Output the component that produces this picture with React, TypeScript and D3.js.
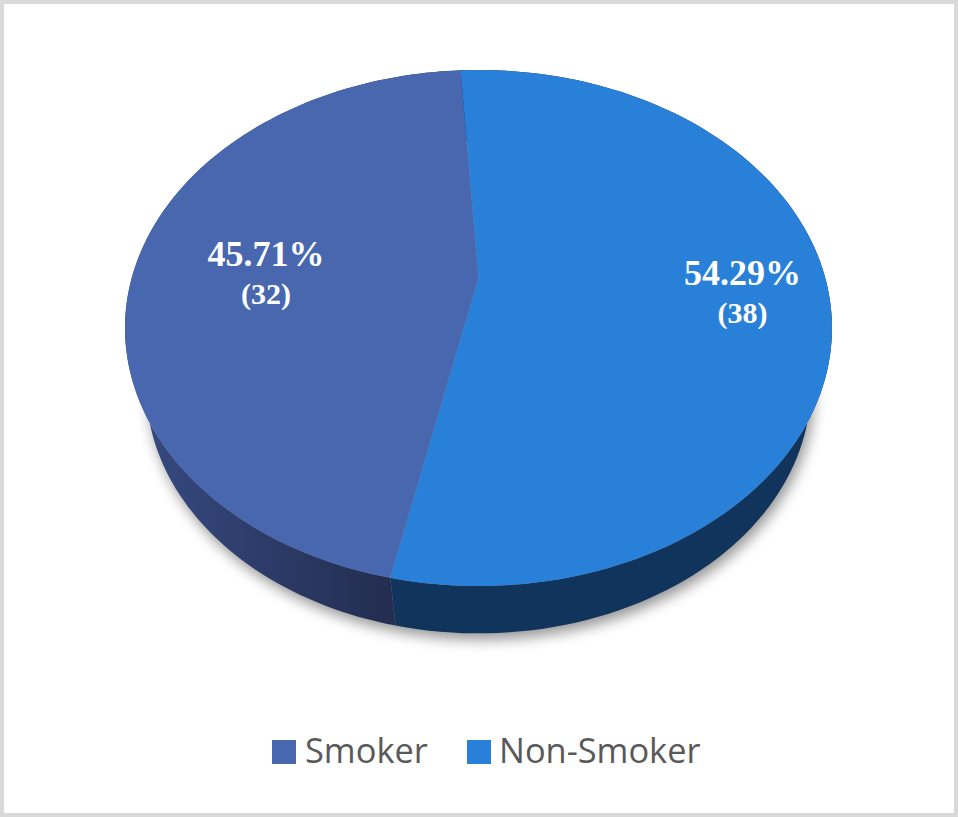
import * as d3 from "d3";

const categories = ["Smoker", "Non-Smoker"];
const counts = [32, 38];
const percentLabels = ["45.71%", "54.29%"];

const topColors = ["#4867ae", "#2880d8"];
const sideColors = ["url(#smokerSide)", "#10345c"];

const width = 958;
const height = 817;

// perspective of the disc: apex sits above the middle of the ellipse
const cx = 478.5;
const apexY = 278;
const tilt = -0.1938;
const scaleX = 346.8;
const scaleY = 248.3;
const depth = 59;
const bottomScaleX = 0.94;
const bottomScaleY = 0.955;

const project = (angle: number, r = 1): [number, number] => {
  const x = Math.sin(angle) * r;
  const y = -Math.cos(angle) * r;
  const w = 1 + tilt * y;
  return [cx + (scaleX * x) / w, apexY + (scaleY * y) / w];
};

// same point on the lower rim of the disc
const projectLow = (angle: number): [number, number] => {
  const [x, y] = project(angle);
  return [cx + (x - cx) * bottomScaleX, 328 + depth + (y - 328) * bottomScaleY];
};

const pie = d3
  .pie<number>()
  .sort(null)
  .startAngle((191.9 * Math.PI) / 180)
  .endAngle((551.9 * Math.PI) / 180);
const slices = pie(counts);

const angles = (s: d3.PieArcDatum<number>) =>
  d3.range(0, 121).map((i) => s.startAngle + ((s.endAngle - s.startAngle) * i) / 120);

const line = d3.line();

const topPath = (s: d3.PieArcDatum<number>) =>
  line([project(0, 0), ...angles(s).map((a) => project(a))]) + "Z";

const sidePath = (s: d3.PieArcDatum<number>) =>
  line([
    ...angles(s).map((a) => project(a)),
    ...angles(s)
      .reverse()
      .map((a) => projectLow(a)),
  ]) + "Z";

const shadowPath = () => {
  const all = d3.range(0, 361, 2).map((d) => (d * Math.PI) / 180);
  return line(all.map((a) => projectLow(a))) + "Z";
};

const labelRadius = [0.62, 0.755];
const labelShift = [-1, -7];

const legendX = [272, 467];
const legendGap = [33, 32];

export default function App() {
  return (
    <svg
      width={width}
      height={height}
      viewBox={`0 0 ${width} ${height}`}
      style={{ position: "absolute", left: 0, top: 0, background: "#fff" }}
    >
      <defs>
        <linearGradient id="smokerSide" gradientUnits="userSpaceOnUse" x1="150" x2="392" y1="0" y2="0">
          <stop offset="0" stopColor="#35497f" />
          <stop offset="1" stopColor="#232d50" />
        </linearGradient>
        <filter id="soft" x="-10%" y="-10%" width="120%" height="120%">
          <feGaussianBlur stdDeviation="7" />
        </filter>
      </defs>
      <rect x={2} y={2} width={954} height={813} fill="#fff" stroke="#d9d9d9" strokeWidth={4} />

      <path d={shadowPath()} transform="translate(3,6)" fill="#000" opacity={0.42} filter="url(#soft)" />
      {slices.map((s, i) => (
        <path key={categories[i]} d={sidePath(s)} fill={sideColors[i]} />
      ))}
      {slices.map((s, i) => (
        <path key={categories[i]} d={topPath(s)} fill={topColors[i]} />
      ))}

      {slices.map((s, i) => {
        const [x, y] = project((s.startAngle + s.endAngle) / 2, labelRadius[i]);
        return (
          <g
            key={categories[i]}
            fill="#fff"
            fontFamily="'Liberation Serif', serif"
            fontWeight="bold"
            textAnchor="middle"
          >
            <text x={x} y={y + labelShift[i]} fontSize={36}>
              {percentLabels[i]}
            </text>
            <text x={x} y={y + labelShift[i] + 38} fontSize={30}>
              ({counts[i]})
            </text>
          </g>
        );
      })}

      {categories.map((c, i) => (
        <g key={c}>
          <rect x={legendX[i]} y={740} width={24} height={24} fill={topColors[i]} />
          <text
            x={legendX[i] + legendGap[i]}
            y={763}
            fontSize={34.4}
            fill="#595959"
            fontFamily="'Open Sans', sans-serif"
          >
            {c}
          </text>
        </g>
      ))}
    </svg>
  );
}
